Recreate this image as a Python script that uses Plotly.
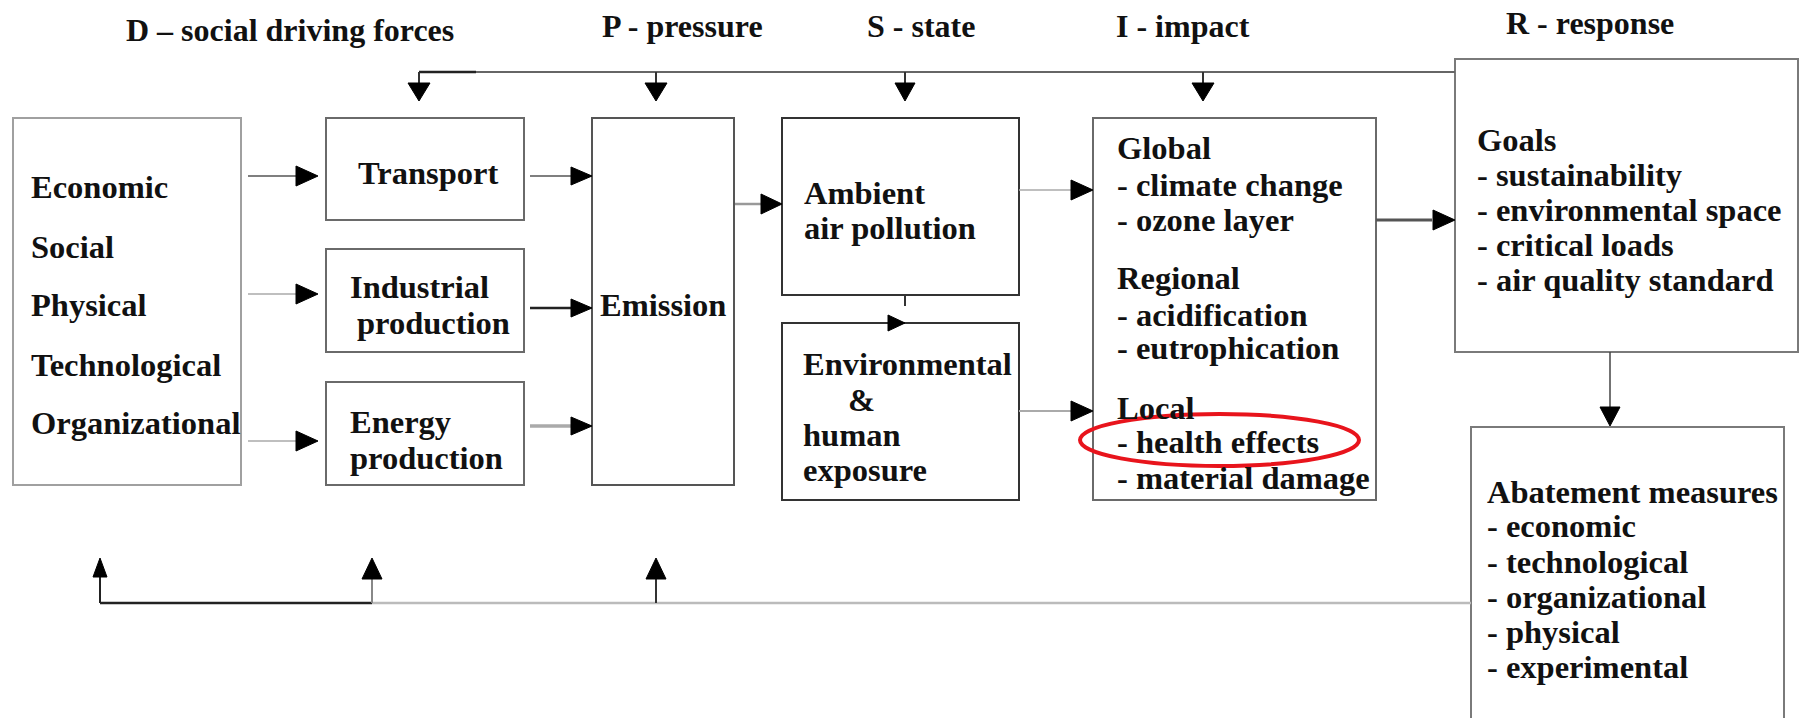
import plotly.graph_objects as go

W, H = 1805, 718
FONT = "Liberation Serif"
FS = 32.5

# ---- boxes: (x0, y0, x1, y1, border colour)
box_names = ["drivers", "transport", "industrial", "energy", "emission",
             "ambient", "exposure", "impact", "goals", "abatement"]
box_x0 = [13, 326, 326, 326, 592, 782, 782, 1093, 1455, 1471]
box_y0 = [118, 118, 249, 382, 118, 118, 323, 118, 59, 427]
box_x1 = [241, 524, 524, 524, 734, 1019, 1019, 1376, 1798, 1784]
box_y1 = [485, 220, 352, 485, 485, 295, 500, 500, 352, 740]
box_col = ["#a0a0a0", "#6a6a6a", "#6a6a6a", "#6a6a6a", "#555555",
           "#333333", "#333333", "#6a6a6a", "#7a7a7a", "#7a7a7a"]

# ---- header labels
head_text = ["D \u2013 social driving forces", "P - pressure", "S - state",
             "I - impact", "R - response"]
head_x = [290, 682, 921, 1183, 1590]
head_y = [30, 26, 26, 26, 23]

# ---- body text lines (text, x-left, y-centre)
text_lines = [
    ("Economic", 29, 187), ("Social", 29, 247), ("Physical", 29, 305),
    ("Technological", 29, 365), ("Organizational", 29, 423),
    ("Transport", 356, 173),
    ("Industrial", 348, 287), ("production", 355, 323),
    ("Energy", 348, 422), ("production", 348, 458),
    ("Emission", 598, 305),
    ("Ambient", 802, 193), ("air pollution", 802, 228),
    ("Environmental", 801, 364), ("&", 846, 400), ("human", 801, 435),
    ("exposure", 801, 470),
    ("Global", 1115, 148), ("- climate change", 1115, 185),
    ("- ozone layer", 1115, 220), ("Regional", 1115, 278),
    ("- acidification", 1115, 315), ("- eutrophication", 1115, 348),
    ("Local", 1115, 408), ("- health effects", 1115, 442),
    ("- material damage", 1115, 478),
    ("Goals", 1475, 140), ("- sustainability", 1475, 175),
    ("- environmental space", 1475, 210), ("- critical loads", 1475, 245),
    ("- air quality standard", 1475, 280),
    ("Abatement measures", 1485, 492), ("- economic", 1485, 526),
    ("- technological", 1485, 562), ("- organizational", 1485, 597),
    ("- physical", 1485, 632), ("- experimental", 1485, 667),
]

# ---- connector lines (x0, y0, x1, y1, colour, width)
seg_x0 = [248, 248, 248, 530, 530, 530, 735, 1019, 905, 1019, 1376,
          419, 476, 419, 656, 905, 1203, 1610,
          100, 372, 100, 372, 656]
seg_y0 = [176, 294, 441, 176, 308, 426, 204, 190, 295, 411, 220,
          72, 72, 72, 72, 72, 72, 352,
          603, 603, 603, 603, 603]
seg_x1 = [300, 300, 300, 572, 572, 572, 762, 1072, 905, 1072, 1432,
          476, 1455, 419, 656, 905, 1203, 1610,
          372, 1471, 100, 372, 656]
seg_y1 = [176, 294, 441, 176, 308, 426, 204, 190, 306, 411, 220,
          72, 72, 84, 84, 84, 84, 408,
          603, 603, 576, 576, 576]
seg_col = ["#555", "#aaa", "#aaa", "#555", "#222", "#aaa", "#999", "#aaa", "#333",
           "#aaa", "#555",
           "#222", "#666", "#333", "#333", "#333", "#333", "#444",
           "#222", "#bbb", "#222", "#888", "#333"]
seg_w = [1.5, 1.5, 1.5, 1.5, 2.5, 3.5, 2.5, 1.5, 2, 2, 3,
         2.5, 2, 2, 2, 2, 2, 1.5,
         2.5, 2.5, 2, 2, 2]

# ---- arrowheads (tip x, tip y, direction, length, half-width)
tip_x = [318, 318, 318, 592, 592, 592, 782, 1093, 905, 1093, 1455,
         419, 656, 905, 1203, 1610, 100, 372, 656]
tip_y = [176, 294, 441, 176, 308, 426, 204, 190, 323, 411, 220,
         101, 101, 101, 101, 426, 558, 558, 558]
tip_dir = ["r"] * 11 + ["d"] * 5 + ["u"] * 3
tip_len = [22, 22, 22, 21, 21, 21, 21, 22, 17, 22, 22,
           18, 18, 18, 18, 19, 19, 21, 21]
tip_hw = [10, 10, 10, 9, 9, 9, 10, 10, 8, 10, 10,
          11, 11, 10, 11, 10, 7, 10, 10]

# ---- highlight ellipse
ell_x0, ell_y0, ell_x1, ell_y1 = 1080, 414, 1359, 466

shapes = []
for i in range(len(box_names)):
    shapes.append(dict(type="rect", xref="x", yref="y",
                       x0=box_x0[i], y0=box_y0[i], x1=box_x1[i], y1=box_y1[i],
                       line=dict(color=box_col[i], width=2), fillcolor="rgba(0,0,0,0)"))
for i in range(len(seg_x0)):
    shapes.append(dict(type="line", xref="x", yref="y",
                       x0=seg_x0[i], y0=seg_y0[i], x1=seg_x1[i], y1=seg_y1[i],
                       line=dict(color=seg_col[i], width=seg_w[i])))


def head_path(x, y, d, L, hw):
    if d == "r":
        pts = [(x, y), (x - L, y - hw), (x - L, y + hw)]
    elif d == "l":
        pts = [(x, y), (x + L, y - hw), (x + L, y + hw)]
    elif d == "d":
        pts = [(x, y), (x - hw, y - L), (x + hw, y - L)]
    else:
        pts = [(x, y), (x - hw, y + L), (x + hw, y + L)]
    return "M " + " L ".join(f"{a},{b}" for a, b in pts) + " Z"


for i in range(len(tip_x)):
    shapes.append(dict(type="path", xref="x", yref="y",
                       path=head_path(tip_x[i], tip_y[i], tip_dir[i], tip_len[i], tip_hw[i]),
                       fillcolor="black", line=dict(color="black", width=1)))

shapes.append(dict(type="circle", xref="x", yref="y",
                   x0=ell_x0, y0=ell_y0, x1=ell_x1, y1=ell_y1,
                   line=dict(color="#e8141c", width=4)))

annotations = []
for t, x, y in zip(head_text, head_x, head_y):
    annotations.append(dict(text=t, x=x, y=y, xref="x", yref="y",
                            xanchor="center", yanchor="middle", showarrow=False,
                            font=dict(family=FONT, size=FS - 0.5, color="#111", weight="bold")))
for t, x, y in text_lines:
    annotations.append(dict(text=t, x=x, y=y, xref="x", yref="y",
                            xanchor="left", yanchor="middle", showarrow=False,
                            font=dict(family=FONT, size=FS, color="#111", weight="bold")))

fig = go.Figure()
fig.update_layout(
    width=W, height=H, autosize=False,
    margin=dict(l=0, r=0, t=0, b=0, pad=0),
    paper_bgcolor="white", plot_bgcolor="white",
    xaxis=dict(range=[0, W], visible=False, fixedrange=True),
    yaxis=dict(range=[H, 0], visible=False, fixedrange=True),
    shapes=shapes, annotations=annotations, showlegend=False,
)
fig.write_html("out.html", config={"displayModeBar": False},
               post_script="document.body.style.margin='0';document.body.style.overflow='hidden';")
